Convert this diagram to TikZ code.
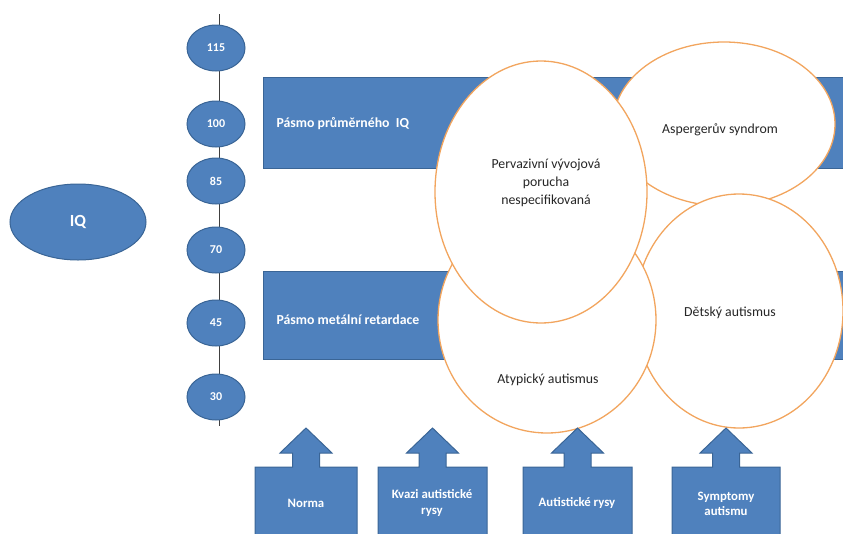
\documentclass[tikz,border=0pt]{standalone}
\usepackage{fontspec}
\setmainfont{Carlito}
\usetikzlibrary{shapes.geometric}
\definecolor{myblue}{HTML}{4F81BD}
\definecolor{mybluedk}{HTML}{3A6596}
\definecolor{myorange}{HTML}{F2A55E}
\tikzset{
  bluefill/.style={fill=myblue, draw=mybluedk, line width=1pt},
  numell/.style={ellipse, bluefill, minimum width=58pt, minimum height=46pt, inner sep=0pt, text=white, font=\fontsize{12}{14}\selectfont\bfseries},
  orell/.style={ellipse, fill=white, draw=myorange, line width=1.3pt, inner sep=0pt},
  ortext/.style={font=\fontsize{13.8}{18.3}\selectfont, align=center, text=black!85},
  wtext/.style={font=\fontsize{13.8}{16}\selectfont\bfseries, text=white, align=center},
  btext/.style={font=\fontsize{12.8}{15.5}\selectfont\bfseries, text=white, align=center}
}
\begin{document}
\begin{tikzpicture}[x=1pt,y=-1pt]
\useasboundingbox (0,0) rectangle (843,533);
% IQ
\node[ellipse, bluefill, minimum width=136pt, minimum height=76pt, text=white, font=\fontsize{17}{20}\selectfont\bfseries] (iq) at (78,222) {IQ};
% vertical scale
\coordinate (ltop) at (219,14);
\coordinate (lbot) at (219,426);
\draw[line width=1pt, black!75] (ltop) -- (lbot);
\node[numell] (n115) at (216,48) {115};
\node[numell] (n100) at (216,124) {100};
\node[numell] (n85) at (216,181) {85};
\node[numell] (n70) at (216,250) {70};
\node[numell] (n45) at (216,323) {45};
\node[numell] (n30) at (216,397) {30};
% bands
\path[bluefill] (263,77) rectangle (900,168);
\node[wtext, anchor=west] (band1) at (273,124) {Pásmo průměrného\ \ IQ};
\path[bluefill] (263,271) rectangle (900,359);
\node[wtext, anchor=west] (band2) at (273,320) {Pásmo metální retardace};
% orange ellipses
\node[orell, minimum width=222pt, minimum height=164pt] (asp) at (724,124) {};
\node[ortext] (asptext) at (720,130) {Aspergerův syndrom};
\node[orell, minimum width=208pt, minimum height=234pt] (det) at (739,311) {};
\node[ortext] (dettext) at (730,313) {Dětský autismus};
\node[orell, minimum width=218pt, minimum height=226pt] (aty) at (547,320) {};
\node[ortext] (atytext) at (548,380) {Atypický autismus};
\node[orell, minimum width=212pt, minimum height=262pt] (per) at (541,192) {};
\node[ortext] (pertext) at (546,183) {Pervazivní vývojová\\porucha\\nespecifikovaná};
% bottom arrow boxes
\foreach \xl/\xr/\nm in {255/357/a1, 378/487/a2, 523/632/a3, 672/780/a4}{
  \pgfmathsetmacro{\xc}{(\xl+\xr)/2}
  \path[bluefill] (\xl,545) -- (\xl,467) -- (\xc-13.5,467) -- (\xc-13.5,453) -- (\xc-26,453) -- (\xc,428) -- (\xc+26,453) -- (\xc+13.5,453) -- (\xc+13.5,467) -- (\xr,467) -- (\xr,545) -- cycle;
}
\node[btext] (norma) at (306,503) {Norma};
\node[btext] (kvazi) at (432,503) {Kvazi autistické\\rysy};
\node[btext] (arysy) at (577,503) {Autistické rysy};
\node[btext] (sympt) at (726,504) {Symptomy\\autismu};
\end{tikzpicture}
\end{document}
